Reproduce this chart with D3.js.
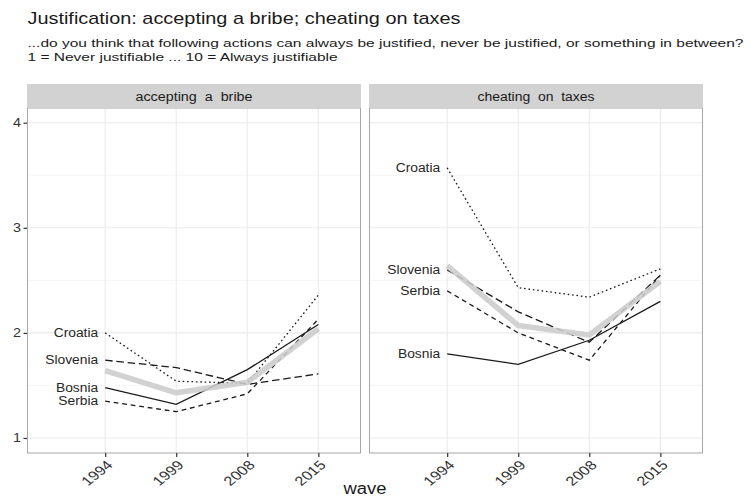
<!DOCTYPE html>
<html><head><meta charset="utf-8">
<script src="https://cdn.jsdelivr.net/npm/d3@7"></script>
<style>
html,body{margin:0;padding:0;background:#fff;}
text{font-family:"Liberation Sans",Arial,Helvetica,sans-serif;}
</style></head>
<body><svg id="chart" width="749" height="499"></svg>
<script>
// ---- data ----
const waves = ["1994", "1999", "2008", "2015"];
const countries = ["Croatia", "Slovenia", "Bosnia", "Serbia"];
const panels = ["accepting a bribe", "cheating on taxes"];
const yTicks = [1, 2, 3, 4];

const bribeCroatia  = [2.00, 1.54, 1.52, 2.36];
const bribeSlovenia = [1.74, 1.67, 1.51, 1.61];
const bribeBosnia   = [1.48, 1.32, 1.65, 2.08];
const bribeSerbia   = [1.35, 1.25, 1.42, 2.13];
const bribeMean     = [1.64, 1.43, 1.53, 2.04];

const taxCroatia  = [3.57, 2.43, 2.34, 2.61];
const taxSlovenia = [2.60, 2.20, 1.91, 2.55];
const taxBosnia   = [1.80, 1.70, 1.93, 2.30];
const taxSerbia   = [2.40, 2.00, 1.74, 2.55];
const taxMean     = [2.64, 2.07, 1.98, 2.49];

const panelData = [
  {title: panels[0], series: [bribeCroatia, bribeSlovenia, bribeBosnia, bribeSerbia], mean: bribeMean},
  {title: panels[1], series: [taxCroatia, taxSlovenia, taxBosnia, taxSerbia], mean: taxMean}
];
const dashFor = {Croatia: "1.6,2.8", Slovenia: "7.5,3.8", Bosnia: null, Serbia: "4.8,3.8"};

// ---- layout ----
const svg = d3.select("#chart");
const STRETCH = 1.15;
function stretch(sel, target) {
  sel.each(function () {
    const w = this.getComputedTextLength();
    this.setAttribute("textLength", target != null ? target : w * STRETCH);
    this.setAttribute("lengthAdjust", "spacingAndGlyphs");
  });
  return sel;
}

// title / subtitle
stretch(svg.append("text").attr("x", 27.5).attr("y", 23.5)
  .attr("font-size", 17).attr("fill", "#1a1a1a")
  .text("Justification: accepting a bribe; cheating on taxes"), 433);
const sub1 = svg.append("text").attr("x", 27.5).attr("y", 46.5)
  .attr("font-size", 11.5).attr("fill", "#1a1a1a")
  .text("...do you think that following actions can always be justified, never be justified, or something in between?");
const sub2 = svg.append("text").attr("x", 27.5).attr("y", 61)
  .attr("font-size", 11.5).attr("fill", "#1a1a1a")
  .text("1 = Never justifiable ... 10 = Always justifiable");
const subFactor = 716 / sub1.node().getComputedTextLength();
stretch(sub1, 716);
stretch(sub2, sub2.node().getComputedTextLength() * subFactor);

const stripTop = 84, panelTop = 108, panelBottom = 453;
const panelX = [[27, 361], [369, 703]];

const y = d3.scaleLinear().domain([0.857, 4.14]).range([panelBottom, panelTop]);

panelData.forEach((pd, pi) => {
  const [x0, x1] = panelX[pi];
  const x = d3.scaleLinear().domain([-1.1, 3.6]).range([x0, x1]);
  const g = svg.append("g");

  g.append("rect").attr("x", x0).attr("y", panelTop).attr("width", x1 - x0)
    .attr("height", panelBottom - panelTop).attr("fill", "#fff");
  [1.5, 2.5, 3.5].forEach(v => {
    g.append("line").attr("x1", x0).attr("x2", x1).attr("y1", y(v)).attr("y2", y(v))
      .attr("stroke", "#f2f2f2").attr("stroke-width", 0.8);
  });
  yTicks.forEach(v => {
    g.append("line").attr("x1", x0).attr("x2", x1).attr("y1", y(v)).attr("y2", y(v))
      .attr("stroke", "#ebebeb").attr("stroke-width", 1.1);
  });
  waves.forEach((w, i) => {
    g.append("line").attr("x1", x(i)).attr("x2", x(i)).attr("y1", panelTop).attr("y2", panelBottom)
      .attr("stroke", "#ebebeb").attr("stroke-width", 1.1);
  });

  const line = d3.line().x((d, i) => x(i)).y(d => y(d));

  pd.series.forEach((vals, ci) => {
    const c = countries[ci];
    const p = g.append("path").attr("d", line(vals)).attr("fill", "none")
      .attr("stroke", "#1a1a1a").attr("stroke-width", 1.3);
    if (dashFor[c]) p.attr("stroke-dasharray", dashFor[c]);
  });
  g.append("path").attr("d", line(pd.mean)).attr("fill", "none")
    .attr("stroke", "#cccccc").attr("stroke-opacity", 0.88)
    .attr("stroke-width", 5.5).attr("stroke-linejoin", "round");

  pd.series.forEach((vals, ci) => {
    stretch(g.append("text").attr("x", x(0) - 7).attr("y", y(vals[0]))
      .attr("dy", "0.35em").attr("text-anchor", "end")
      .attr("font-size", 12).attr("fill", "#262626").text(countries[ci]));
  });

  g.append("rect").attr("x", x0 + 0.5).attr("y", panelTop).attr("width", x1 - x0 - 1)
    .attr("height", panelBottom - panelTop).attr("fill", "none")
    .attr("stroke", "#a6a6a6").attr("stroke-width", 1);

  g.append("rect").attr("x", x0).attr("y", stripTop).attr("width", x1 - x0)
    .attr("height", panelTop - stripTop).attr("fill", "#d2d2d2");
  stretch(g.append("text").attr("x", (x0 + x1) / 2).attr("y", stripTop + 16.5)
    .attr("text-anchor", "middle").attr("font-size", 12.5).attr("fill", "#1a1a1a")
    .attr("style", "white-space:pre").text(pd.title.replace(/ /g, "  ")), 117);

  const xa = g.append("g").attr("transform", `translate(0,${panelBottom})`)
    .call(d3.axisBottom(x).tickValues([0, 1, 2, 3]).tickFormat(i => waves[i]).tickSize(4).tickSizeOuter(0));
  xa.select(".domain").remove();
  xa.selectAll(".tick line").attr("stroke", "#333").attr("stroke-width", 1.2);
  xa.selectAll(".tick text").attr("font-size", 13).attr("fill", "#333")
    .attr("text-anchor", "end").attr("y", 0).attr("dy", 0)
    .attr("transform", "translate(8,13) scale(1.25,1) rotate(-45)");

  if (pi === 0) {
    const ya = g.append("g").attr("transform", `translate(${x0},0)`)
      .call(d3.axisLeft(y).tickValues(yTicks).tickFormat(d3.format("d")).tickSize(3.5).tickSizeOuter(0));
    ya.select(".domain").remove();
    ya.selectAll(".tick line").attr("stroke", "#333").attr("stroke-width", 1.2);
    ya.selectAll(".tick text").attr("font-size", 12.5).attr("fill", "#333").attr("x", -6);
    stretch(ya.selectAll(".tick text"));
  }
});

stretch(svg.append("text").attr("x", 365).attr("y", 494).attr("text-anchor", "middle")
  .attr("font-size", 16).attr("fill", "#1a1a1a").text("wave"));
</script>
</body></html>
